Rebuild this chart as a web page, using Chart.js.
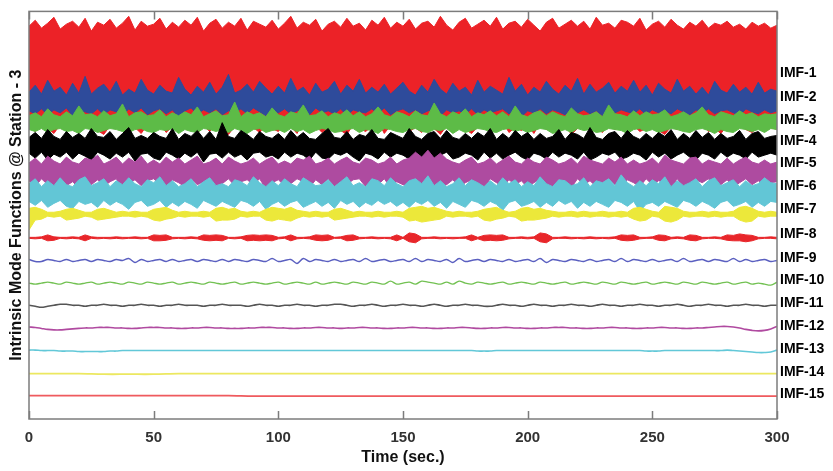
<!DOCTYPE html>
<html>
<head>
<meta charset="utf-8">
<script src="https://cdn.jsdelivr.net/npm/chart.js@4.4.1/dist/chart.umd.min.js"></script>
<style>
  body { margin: 0; background: #fff; }
  #wrap { width: 833px; height: 471px; position: relative; }
</style>
</head>
<body>
<div id="wrap"><canvas id="imfChart"></canvas></div>
<script>
// sample times (sec.)
const tBand = [
  0,2.5,5,7.5,10,12.5,15,17.5,20,22.5,25,27.5,30,32.5,35,37.5,40,42.5,45,47.5,
  50,52.5,55,57.5,60,62.5,65,67.5,70,72.5,75,77.5,80,82.5,85,87.5,90,92.5,95,97.5,
  100,102.5,105,107.5,110,112.5,115,117.5,120,122.5,125,127.5,130,132.5,135,137.5,140,142.5,145,147.5,
  150,152.5,155,157.5,160,162.5,165,167.5,170,172.5,175,177.5,180,182.5,185,187.5,190,192.5,195,197.5,
  200,202.5,205,207.5,210,212.5,215,217.5,220,222.5,225,227.5,230,232.5,235,237.5,240,242.5,245,247.5,
  250,252.5,255,257.5,260,262.5,265,267.5,270,272.5,275,277.5,280,282.5,285,287.5,290,292.5,295,297.5,
  300
];
const tSlow = [0,10,20,30,40,50,60,70,80,90,100,110,120,130,140,150,160,170,180,190,200,210,220,230,240,250,260,270,280,290,300];

const imfNames = ['IMF-1','IMF-2','IMF-3','IMF-4','IMF-5','IMF-6','IMF-7','IMF-8','IMF-9','IMF-10','IMF-11','IMF-12','IMF-13','IMF-14','IMF-15'];
const xTicks = [0, 50, 100, 150, 200, 250, 300];

// upper / lower envelopes of the dense modes
const imf1Upper = [
  52,58,50,55,61,49,54,57,51,60,47,56,53,59,50,55,62,48,57,52,
  54,60,49,56,51,58,53,61,47,55,59,50,56,52,60,48,57,54,51,58,
  49,55,62,50,56,53,59,47,54,57,51,60,52,55,48,58,53,61,50,56,
  52,59,49,55,57,51,62,53,48,56,60,50,54,58,52,61,49,55,57,51,
  59,53,47,56,60,50,54,58,52,57,49,61,53,55,50,58,56,52,60,48,
  54,57,51,59,53,49,56,52,58,50,55,53,57,51,54,49,56,52,55,50,
  53];
const imf1Lower = [
  -50,-55,-46,-52,-57,-48,-53,-44,-56,-50,-47,-54,-58,-49,-52,-45,-55,-51,-57,-48,
  -53,-46,-56,-50,-54,-43,-52,-57,-49,-55,-47,-53,-58,-50,-45,-54,-51,-56,-48,-52,
  -55,-47,-50,-57,-44,-53,-49,-56,-51,-46,-54,-58,-48,-52,-55,-50,-45,-57,-49,-53,
  -47,-55,-51,-56,-44,-52,-58,-49,-54,-46,-53,-57,-50,-48,-55,-52,-45,-56,-51,-54,
  -49,-57,-46,-53,-50,-55,-48,-58,-52,-44,-54,-51,-56,-47,-53,-50,-57,-49,-55,-52,
  -46,-54,-58,-50,-53,-48,-56,-51,-45,-55,-52,-57,-49,-54,-47,-53,-56,-50,-55,-51,
  -53];
const imf2Upper = [
  8,15,6,20,9,13,5,17,7,24,6,12,16,8,19,5,11,7,21,10,
  6,15,9,7,23,11,5,14,8,18,6,13,26,7,10,16,8,19,12,6,
  14,7,22,9,13,5,17,8,11,19,6,15,9,21,7,13,8,16,6,12,
  18,9,5,15,8,21,11,6,17,9,13,5,20,8,14,10,6,23,9,16,
  5,13,8,19,11,6,15,9,22,6,16,8,12,18,7,14,9,20,8,15,
  5,17,11,7,21,9,14,6,13,5,19,10,7,16,8,13,6,18,7,11,
  9];
const imf2Lower = [
  -11,-14,-9,-15,-10,-13,-8,-16,-11,-12,-14,-9,-15,-10,-12,-16,-9,-13,-8,-15,
  -11,-9,-14,-10,-17,-11,-8,-14,-10,-13,-9,-15,-11,-13,-9,-14,-8,-12,-16,-10,
  -13,-9,-14,-11,-10,-15,-8,-13,-11,-14,-9,-16,-10,-12,-13,-9,-14,-8,-15,-11,
  -9,-13,-10,-14,-11,-9,-16,-10,-13,-11,-14,-9,-15,-10,-13,-11,-9,-14,-10,-17,
  -11,-13,-9,-14,-10,-12,-15,-9,-13,-10,-14,-11,-16,-9,-13,-10,-12,-14,-9,-15,
  -10,-13,-11,-14,-9,-12,-15,-10,-13,-9,-14,-11,-10,-13,-16,-9,-12,-14,-10,-13,
  -11];
const imf3Upper = [
  7,10,6,14,8,6,11,7,17,8,9,6,12,7,9,19,6,10,11,7,
  8,13,6,10,7,11,8,16,6,9,12,7,8,21,6,11,8,10,6,15,
  8,6,11,9,18,7,8,12,6,10,8,13,7,11,6,9,16,8,6,11,
  9,6,12,8,7,20,9,6,11,8,14,6,10,8,12,7,11,6,17,8,
  6,10,12,7,11,8,6,15,9,7,8,11,6,18,9,8,6,12,7,11,
  8,9,13,6,8,11,7,10,16,8,6,11,9,7,12,8,10,6,9,8,
  9];
const imf3Lower = [
  -7,-9,-6,-10,-7,-6,-9,-8,-11,-6,-7,-10,-8,-6,-7,-9,-10,-7,-6,-9,
  -10,-7,-8,-6,-11,-7,-9,-10,-6,-7,-9,-7,-10,-6,-8,-11,-7,-6,-10,-8,
  -7,-10,-6,-9,-7,-11,-8,-6,-7,-10,-9,-7,-6,-10,-7,-8,-11,-6,-7,-9,
  -10,-7,-6,-9,-10,-7,-8,-6,-11,-7,-10,-8,-6,-7,-9,-10,-7,-6,-9,-7,
  -10,-8,-6,-7,-11,-9,-7,-10,-6,-8,-7,-10,-9,-6,-7,-8,-11,-7,-6,-9,
  -7,-10,-8,-6,-7,-9,-10,-7,-6,-8,-11,-7,-9,-10,-6,-7,-9,-7,-10,-6,
  -7];
const imf4Upper = [
  7,12,6,15,8,5,13,7,11,6,16,8,7,13,5,11,17,6,9,6,
  12,8,6,16,5,11,8,14,6,13,5,22,8,6,14,10,5,13,8,6,
  11,5,14,7,12,6,5,11,16,7,6,13,5,10,8,15,6,5,12,9,
  6,16,8,5,11,13,6,14,7,5,11,6,12,8,16,5,11,6,14,8,
  12,5,11,6,8,15,5,12,10,6,17,7,5,11,13,6,14,8,5,11,
  6,12,8,15,5,11,6,14,7,12,5,11,6,8,14,5,11,13,6,8,
  9];
const imf4Lower = [
  -9,-14,-8,-16,-10,-13,-8,-15,-9,-12,-16,-8,-11,-15,-9,-13,-8,-17,-10,-9,
  -14,-16,-8,-11,-15,-9,-13,-8,-18,-10,-9,-14,-8,-13,-10,-16,-9,-8,-13,-11,
  -15,-8,-13,-9,-11,-16,-8,-14,-15,-9,-11,-8,-13,-17,-9,-11,-15,-8,-13,-9,
  -11,-15,-8,-14,-9,-16,-11,-8,-15,-13,-9,-11,-16,-8,-14,-9,-15,-11,-8,-13,
  -16,-9,-11,-15,-8,-13,-9,-11,-15,-8,-16,-13,-9,-11,-8,-15,-13,-9,-11,-16,
  -8,-13,-9,-15,-11,-8,-13,-16,-9,-11,-15,-8,-13,-9,-11,-15,-8,-13,-11,-9,
  -11];
const imf5Upper = [
  7,12,6,14,9,6,13,8,6,12,10,15,6,9,13,6,12,8,14,6,
  10,6,13,8,12,6,10,14,6,8,12,6,13,9,6,8,12,6,10,13,
  6,9,6,12,10,14,6,8,12,6,10,13,8,6,12,10,6,8,13,6,
  10,12,18,13,20,12,17,11,8,6,10,13,6,8,12,6,10,14,8,6,
  12,8,6,13,10,6,8,12,6,14,10,8,6,12,8,13,6,10,6,8,
  12,6,15,10,8,6,12,13,6,10,8,6,12,6,10,13,8,6,10,6,
  8];
const imf5Lower = [
  -11,-17,-9,-15,-20,-10,-16,-12,-18,-9,-15,-10,-17,-12,-9,-19,-14,-10,-16,-11,
  -9,-15,-18,-10,-13,-17,-9,-15,-12,-10,-18,-14,-9,-16,-12,-10,-15,-9,-19,-13,
  -10,-16,-14,-9,-12,-18,-10,-15,-9,-17,-12,-15,-10,-9,-17,-13,-15,-9,-18,-12,
  -15,-17,-20,-18,-22,-19,-16,-15,-10,-17,-13,-10,-15,-18,-9,-13,-17,-10,-15,-11,
  -18,-13,-9,-15,-17,-10,-13,-18,-9,-15,-11,-17,-13,-9,-15,-18,-10,-13,-17,-9,
  -15,-11,-13,-18,-9,-17,-15,-10,-13,-9,-17,-15,-10,-18,-13,-9,-15,-11,-17,-13,
  -12];
const imf6Upper = [
  9,14,6,12,7,15,8,6,13,16,7,10,14,6,12,8,15,9,6,13,
  10,16,7,12,6,9,14,6,11,15,7,9,6,13,11,7,16,10,6,12,
  7,14,9,6,15,11,7,8,13,6,11,16,7,10,6,14,12,7,15,9,
  6,12,14,9,17,7,12,6,9,15,7,13,10,6,12,7,15,9,13,6,
  11,7,16,9,6,13,12,7,9,15,6,12,10,14,7,18,10,6,12,7,
  13,9,16,6,12,7,10,14,6,12,15,7,10,13,6,12,7,9,15,10,
  9];
const imf6Lower = [
  -9,-13,-8,-15,-11,-8,-14,-16,-9,-12,-10,-15,-8,-13,-9,-12,-17,-10,-8,-14,
  -12,-8,-15,-10,-14,-9,-12,-16,-8,-11,-14,-9,-12,-15,-8,-10,-14,-9,-17,-12,
  -9,-14,-10,-8,-15,-12,-9,-14,-10,-16,-8,-12,-9,-15,-10,-13,-8,-12,-9,-14,
  -10,-15,-9,-12,-8,-14,-10,-16,-9,-12,-15,-8,-10,-14,-9,-12,-18,-10,-8,-14,
  -12,-9,-15,-10,-14,-8,-12,-9,-16,-10,-14,-9,-12,-15,-8,-10,-14,-9,-19,-12,
  -10,-14,-9,-12,-15,-8,-10,-14,-9,-12,-16,-10,-8,-14,-12,-9,-15,-10,-14,-9,
  -10];
const imf7Upper = [
  6,7,5,2,2,3,5,6,4,2,2,5,6,4,2,3,2,3,2,2,
  5,6,7,4,2,3,2,2,3,2,6,7,5,6,3,2,3,2,5,7,
  6,5,7,4,3,2,3,2,2,5,6,4,2,3,2,2,3,2,2,3,
  2,6,7,8,6,7,5,3,2,3,2,2,3,5,6,7,4,2,3,6,
  7,5,6,4,3,2,2,3,2,3,2,2,3,2,2,3,2,6,7,5,
  3,2,8,7,6,3,2,2,3,2,3,2,2,3,7,8,6,3,2,3,
  2];
const imf7Lower = [
  -16,-6,-5,-2,-3,-2,-6,-5,-4,-2,-3,-6,-5,-4,-3,-2,-2,-3,-2,-3,
  -6,-7,-5,-4,-2,-3,-2,-2,-3,-2,-7,-6,-6,-5,-2,-3,-2,-2,-6,-7,
  -5,-6,-7,-4,-2,-3,-2,-3,-2,-6,-5,-4,-3,-2,-2,-3,-2,-3,-2,-2,
  -3,-7,-6,-8,-7,-6,-5,-2,-3,-2,-2,-3,-2,-6,-7,-5,-4,-2,-3,-7,
  -6,-6,-5,-4,-2,-3,-2,-2,-3,-2,-3,-2,-2,-3,-2,-3,-2,-5,-7,-6,
  -2,-3,-7,-8,-6,-2,-3,-2,-2,-3,-2,-3,-2,-2,-6,-8,-7,-2,-3,-2,
  -2];
const imf8Upper = [
  0.5,0.5,1,3,1,0.5,0.5,1,0.5,3,1,0.5,0.5,0.5,1,0.5,0.5,1,0.5,0.5,
  3,2.5,3,0.5,0.5,0.5,1,0.5,3,2.5,3,2.5,0.5,0.5,1,2.5,3,2.5,3,2.5,
  0.5,1,3,0.5,0.5,1,3,2.5,3,0.5,1,2.5,3,0.5,0.5,1,0.5,0.5,0.5,3,
  0.5,5,4,0.5,0.5,1,0.5,0.5,0.5,0.5,1,3,0.5,2.5,3,2.5,3,0.5,0.5,1,
  0.5,1,5,4,0.5,0.5,1,0.5,0.5,0.5,1,0.5,0.5,0.5,1,3,2.5,3,0.5,0.5,
  1,3,2.5,0.5,1,0.5,3,2.5,0.5,0.5,1,0.5,3,2.5,4,3,2.5,0.5,0.5,1,
  0.5];
const imf8Lower = [
  -0.5,-1,-0.5,-3,-2.5,-0.5,-1,-0.5,-1,-3,-0.5,-1,-0.5,-1,-0.5,-1,-0.5,-0.5,-1,-0.5,
  -3,-3,-2.5,-1,-0.5,-1,-0.5,-1,-2.5,-3,-2.5,-3,-0.5,-1,-0.5,-3,-2.5,-3,-2.5,-3,
  -1,-0.5,-3,-1,-0.5,-1,-2.5,-3,-2.5,-0.5,-0.5,-3,-2.5,-1,-0.5,-0.5,-1,-0.5,-1,-3,
  -0.5,-4,-5,-1,-0.5,-0.5,-1,-0.5,-1,-0.5,-0.5,-3,-1,-3,-2.5,-3,-2.5,-1,-0.5,-0.5,
  -1,-0.5,-4,-5,-1,-0.5,-0.5,-1,-0.5,-1,-0.5,-1,-0.5,-1,-0.5,-2.5,-3,-2.5,-1,-0.5,
  -0.5,-2.5,-3,-1,-0.5,-1,-2.5,-3,-1,-0.5,-0.5,-1,-2.5,-3,-3,-4,-3,-1,-0.5,-0.5,
  -1];

// slower modes drawn as single lines
const imf9 = [
  1,-1,-1,1,0,-1,1,-1,0,1,-1,1,0,-1,1,0,2,-2,1,-1,
  0,1,-1,1,-1,0,1,-1,1,0,-1,1,-1,1,0,-1,1,0,-1,2,
  -1,0,1,-3,2,-1,1,0,-1,1,-1,0,1,-1,2,-1,0,1,-1,0,
  1,-1,2,-1,1,0,-1,1,-2,2,-1,0,1,-1,1,0,-1,1,-1,0,
  1,-1,2,-2,1,0,-1,1,0,-1,1,-1,0,1,-1,2,-1,1,0,-1,
  1,-1,0,1,-1,2,-1,0,1,-1,1,0,-1,2,-1,1,-1,0,1,-1,
  0];
const imf10 = [
  0,-1,0,1,0,-1,1,0,-1,0,1,-1,0,1,0,-1,1,0,-1,1,
  0,-1,0,1,-1,0,1,0,-1,1,0,-1,0,1,-1,0,1,0,-1,0,
  1,-1,0,1,0,-1,1,-1,0,1,0,-1,1,0,-1,1,0,-1,2,-1,
  0,1,-1,2,1,0,-1,1,-1,2,0,-1,1,0,-1,0,1,-1,0,1,
  0,-1,1,0,-1,0,1,-1,0,1,0,-1,1,0,-1,1,0,-1,0,1,
  -1,0,1,0,-1,1,0,-1,1,0,-1,0,1,-1,0,1,-1,0,-1,-2,
  1];
const imf11 = [
  0,-1,-2,-1,0,1,1,0,0,-1,0,0,1,0,0,-1,0,0,1,0,
  0,-1,0,0,1,0,0,0,-1,0,0,1,0,0,0,-1,0,1,0,0,
  -1,0,0,1,0,0,-1,0,0,1,1,0,-1,0,0,1,0,-1,0,0,
  1,0,0,-1,0,1,0,-1,0,0,1,0,0,-1,-1,0,1,0,0,-1,
  0,1,0,0,-1,0,0,1,0,0,-1,0,1,0,0,-1,0,0,1,0,
  0,-1,0,0,1,0,-1,0,0,1,0,0,-1,0,0,1,0,0,-1,0,
  0];
const imf12 = [
  1,0.5,-0.5,-1.5,-2,-2,-1.5,-1,-0.5,0,0,0.5,0.5,0.5,0,0,-0.5,-0.5,0,0.5,
  0.5,0.5,0,0,-0.5,-0.5,0,0,0.5,0.5,0,0,-0.5,-0.5,-0.5,0,0,0.5,0.5,0.5,
  0,0,-0.5,-0.5,0,0,0.5,0.5,0,0,-0.5,0,0,0.5,0.5,0,0,-0.5,-0.5,0,
  0,0.5,0.5,0,0,-0.5,-0.5,0,0,0.5,0.5,0,-0.5,-0.5,0,0,0.5,0.5,0,0,
  -0.5,-0.5,0,0,0.5,0.5,0.5,0,0,-0.5,-0.5,0,0,0.5,0.5,0,0,-0.5,-0.5,0,
  0,0.5,0.5,0,0,-0.5,-0.5,0,0,0.5,1,1.5,1.5,1,0,-1.5,-2.5,-3,-2.5,-1,
  1.5];
const imf13 = [
  0.5,0.5,0,0,0,-0.5,-0.5,-0.5,-1,-1,-1,-1,-1,-0.5,-0.5,0,0,0,0,0,
  0,0,0,0,0,0,0,0,0,0,0,0,0,0,0,0,0,0,0,0,
  0,0,0,0,0,0,0,0,0,0,0,0,0,0,0,0,0,0,0,0,
  0,0,0,0,0,0,0,0,0,0,0,0,-0.5,-0.5,-0.5,0,0,0,0,0,
  0,0,0,0,0,0,0,0,0,0,0,0,0,0,0,0,0,0,0,-0.5,
  -0.5,-0.5,0,0,0,0,0,0,0,0,0,0,0.5,0,-0.5,-1,-1.5,-2,-2,-1.5,
  0.5];
const imf14 = [0,0,0,-0.5,-0.5,-0.5,0,0,0,0,0,0,0,0,0,0,0,0,0,0,0,0,0,0,0,0,0,0,0,0,0];
const imf15 = [0.5,0.5,0.5,0.5,0.5,0.5,0.5,0.5,0.5,0,0,0,0,0,0,0,0,0,0,0,0,0,0,0,0,0,0,0,0,0,0];

// layout: baseline of each mode on the stacked axis, label heights, and colours
const offsets = [347, 324, 301, 279, 253, 230, 208, 184, 161, 138, 115.5, 92.5, 69.5, 46, 23.3];
const labelPos = [351, 327, 304, 282, 260, 237, 213, 188, 163, 141, 118, 94, 71, 48, 25];
const colors = ['#ec2227', '#2e4b9b', '#5dbb47', '#000000', '#ae4ba0', '#62c6d6', '#ece83a', '#e8262a',
  '#5a5fc0', '#72c152', '#555555', '#b04aa0', '#62c8d8', '#ece860', '#ef5a5e'];
const lineWidths = [1.4, 1.4, 1.6, 1.6, 1.6, 1.8, 1.8];

const bands = [
  [imf1Upper, imf1Lower], [imf2Upper, imf2Lower], [imf3Upper, imf3Lower], [imf4Upper, imf4Lower],
  [imf5Upper, imf5Lower], [imf6Upper, imf6Lower], [imf7Upper, imf7Lower], [imf8Upper, imf8Lower]
];
const lines = [
  [tBand, imf9], [tBand, imf10], [tBand, imf11], [tBand, imf12], [tBand, imf13], [tSlow, imf14], [tSlow, imf15]
];

const datasets = [];
bands.forEach(([up, lo], k) => {
  const base = offsets[k];
  datasets.push({
    label: imfNames[k],
    data: tBand.map((t, i) => ({ x: t, y: base + up[i] })),
    borderColor: colors[k], borderWidth: 1, pointRadius: 0, tension: 0, fill: false,
    order: 16 - k
  });
  datasets.push({
    label: imfNames[k] + ' low',
    data: tBand.map((t, i) => ({ x: t, y: base + lo[i] })),
    borderColor: colors[k], backgroundColor: colors[k], borderWidth: 1, pointRadius: 0, tension: 0,
    fill: '-1',
    order: 16 - k
  });
});
lines.forEach(([t, v], j) => {
  const k = j + 8;
  datasets.push({
    label: imfNames[k],
    data: t.map((tt, i) => ({ x: tt, y: offsets[k] + v[i] })),
    borderColor: colors[k], borderWidth: lineWidths[j], pointRadius: 0, tension: 0.35, fill: false,
    order: 16 - k
  });
});

// box round the plot with inward ticks top and bottom
const frame = {
  id: 'frame',
  afterDatasetsDraw(chart) {
    const { ctx, chartArea: a, scales: { x } } = chart;
    ctx.save();
    ctx.strokeStyle = '#7c7c7c';
    ctx.lineWidth = 1.5;
    ctx.strokeRect(a.left, a.top, a.width, a.height);
    ctx.beginPath();
    x.ticks.forEach(t => {
      const px = Math.round(x.getPixelForValue(t.value)) + 0.5;
      ctx.moveTo(px, a.bottom); ctx.lineTo(px, a.bottom - 8);
      ctx.moveTo(px, a.top); ctx.lineTo(px, a.top + 8);
    });
    ctx.stroke();
    ctx.restore();
  }
};

Chart.defaults.font.family = '"Liberation Sans", Arial, sans-serif';

new Chart(document.getElementById('imfChart'), {
  type: 'line',
  data: { datasets: datasets },
  options: {
    responsive: true,
    maintainAspectRatio: false,
    animation: false,
    layout: { padding: { top: 5, left: 7, right: 0, bottom: 4 } },
    plugins: { legend: { display: false }, tooltip: { enabled: false } },
    scales: {
      x: {
        type: 'linear',
        min: 0, max: 300,
        afterBuildTicks: (axis) => { axis.ticks = xTicks.map(v => ({ value: v })); },
        afterFit: (axis) => { axis.height = 48; },
        grid: { display: false, drawTicks: false },
        border: { display: false },
        ticks: { padding: 10, color: '#333', font: { size: 15, weight: 'bold' } },
        title: { display: true, text: 'Time (sec.)', color: '#111', padding: 0, font: { size: 16, weight: 'bold' } }
      },
      y: {
        position: 'right',
        min: 0, max: 414,
        afterBuildTicks: (axis) => { axis.ticks = labelPos.map(v => ({ value: v })); },
        afterFit: (axis) => { axis.width = 56; },
        grid: { display: false, drawTicks: false },
        border: { display: false },
        ticks: {
          autoSkip: false, padding: 3, color: '#000',
          font: { size: 14, weight: 'bold' },
          callback: (v, i) => imfNames[i]
        }
      },
      yl: {
        position: 'left',
        min: 0, max: 1,
        afterFit: (axis) => { axis.width = 22; },
        grid: { display: false, drawTicks: false },
        border: { display: false },
        ticks: { display: false },
        title: { display: true, text: 'Intrinsic Mode Functions @ Station - 3', color: '#111', padding: 0,
          font: { size: 16, weight: 'bold' } }
      }
    }
  },
  plugins: [frame]
});
</script>
</body>
</html>
